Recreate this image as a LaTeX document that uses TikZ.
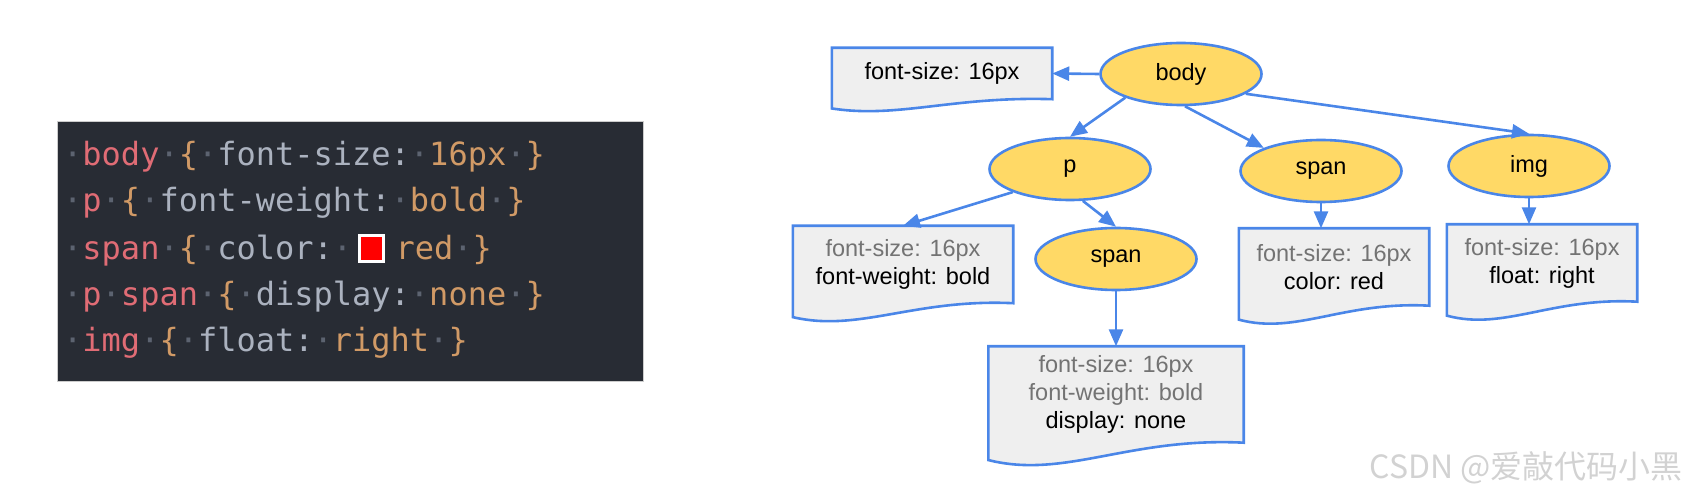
\documentclass[tikz,border=0pt]{standalone}
\usepackage{xcolor}
\usepackage{fontspec}
\setmainfont{Liberation Sans}
\newfontfamily\codefont{DejaVu Sans Mono}
\newfontfamily\cjkfont{Noto Sans CJK SC}
\usetikzlibrary{arrows.meta,positioning,calc,backgrounds,shapes.geometric}
\definecolor{codebg}{HTML}{282C34}
\definecolor{codered}{HTML}{E06C75}
\definecolor{codeorange}{HTML}{D19A66}
\definecolor{codegrey}{HTML}{ABB2BF}
\definecolor{codedot}{HTML}{5C6370}
\definecolor{treeblue}{HTML}{4A86E8}
\definecolor{treeyellow}{HTML}{FFD966}
\definecolor{boxgrey}{HTML}{EFEFEF}
\definecolor{inhgrey}{HTML}{737373}

\newcommand\cssws{\textcolor{codedot}{·}}
\newcommand\csssel[1]{\textcolor{codered}{#1}}
\newcommand\cssprop[1]{\textcolor{codegrey}{#1}}
\newcommand\cssval[1]{\textcolor{codeorange}{#1}}
\newcommand\redswatch{\makebox[43.5pt][l]{\hspace{6pt}\setlength\fboxsep{0pt}\setlength\fboxrule{3pt}\fcolorbox{white}{red}{\rule{21pt}{0pt}\rule{0pt}{23pt}}}}
\newcommand\inherited[1]{\textcolor{inhgrey}{#1}}
% document outline with wavy bottom, drawn round a docbox node
\newcommand\docshape[1]{%
  \path[docline] let \p1=(#1.north west), \p2=(#1.south east) in
    (\p1) -- (\x2,\y1) -- (\p2)
    .. controls ({\x1+0.55*(\x2-\x1)},{\y2+0.06*(\y1-\y2)})
       and ({\x1+0.3*(\x2-\x1)},{\y2-0.38*(\y1-\y2)})
    .. (\x1,{\y2-0.18*(\y1-\y2)}) -- cycle;}

\begin{document}
\begin{tikzpicture}[x=1pt, y=1pt, >={Triangle[length=17pt,width=14pt]},
  codeline/.style={anchor=base west, inner sep=0pt, font={\codefont\fontsize{32}{32}\selectfont}},
  elem/.style={ellipse, draw=treeblue, line width=2.6pt, fill=treeyellow, minimum width=161pt, minimum height=62pt, inner sep=0pt, font={\fontsize{23.5}{28}\selectfont}},
  docbox/.style={rectangle, inner sep=0pt, align=center, font={\fontsize{23.5}{28}\selectfont}},
  docline/.style={draw=treeblue, line width=2.6pt, fill=boxgrey},
  link/.style={->, draw=treeblue, line width=2.6pt}]
  \useasboundingbox (0,0) rectangle (1688,498);

  % stylesheet
  \node[fill=codebg, draw=gray!40, line width=0.8pt, minimum width=586pt, minimum height=260pt, inner sep=0pt, anchor=south west] (code) at (57,116) {};
  \node[codeline] (l1) at (63,332) {\cssws\csssel{body}\cssws\cssval{\{}\cssws\cssprop{font-size:}\cssws\cssval{16px}\cssws\cssval{\}}};
  \node[codeline] (l2) at (63,286) {\cssws\csssel{p}\cssws\cssval{\{}\cssws\cssprop{font-weight:}\cssws\cssval{bold}\cssws\cssval{\}}};
  \node[codeline] (l3) at (63,238) {\cssws\csssel{span}\cssws\cssval{\{}\cssws\cssprop{color:}\cssws\redswatch\cssval{red}\cssws\cssval{\}}};
  \node[codeline] (l4) at (63,192) {\cssws\csssel{p}\cssws\csssel{span}\cssws\cssval{\{}\cssws\cssprop{display:}\cssws\cssval{none}\cssws\cssval{\}}};
  \node[codeline] (l5) at (63,146) {\cssws\csssel{img}\cssws\cssval{\{}\cssws\cssprop{float:}\cssws\cssval{right}\cssws\cssval{\}}};

  % element tree
  \node[elem] (body) at (1181,424) {body};
  \node[elem] (p) at (1070,329) {p};
  \node[elem] (span) at (1321,327) {span};
  \node[elem] (img) at (1529,332) {img};
  \node[elem] (pspan) at (1116,239) {span};

  % computed styles
  \node[docbox, minimum width=220pt, minimum height=51pt] (bodystyle) at (942,424.5) {font-size: 16px};
  \node[docbox, minimum width=220pt, minimum height=77pt] (pstyle) at (903,233.5) {\inherited{font-size: 16px}\\font-weight: bold};
  \node[docbox, minimum width=255pt, minimum height=96pt, below=55pt of pspan] (pspanstyle) {\inherited{font-size: 16px}\\\inherited{font-weight: bold}\\display: none};
  \node[docbox, minimum width=190pt, minimum height=77pt, below=25pt of span, xshift=13pt] (spanstyle) {\inherited{font-size: 16px}\\color: red};
  \node[docbox, minimum width=190pt, minimum height=77pt, below=26pt of img, xshift=13pt] (imgstyle) {\inherited{font-size: 16px}\\float: right};
  \begin{scope}[on background layer]
    \foreach \b in {bodystyle,pstyle,pspanstyle,spanstyle,imgstyle} {\docshape{\b}}
  \end{scope}

  \draw[link] (body.west) -- (bodystyle.east);
  \draw[link] (body.203) -- (p.north);
  \draw[link] (body.-83) -- (span.158);
  \draw[link] (body.-17) -- (img.north);
  \draw[link] (p.202) -- (pstyle.north);
  \draw[link] (p.-68) -- (pspan.north);
  \draw[link] (pspan.south) -- (pspanstyle.north);
  \draw[link] (span.south) -- (span.south |- spanstyle.north);
  \draw[link] (img.south) -- (img.south |- imgstyle.north);

  \node[anchor=east, inner sep=0pt, text=gray!35, font={\cjkfont\fontsize{32}{32}\selectfont}] (mark) at (1683,30) {CSDN @爱敲代码小黑};
\end{tikzpicture}
\end{document}
